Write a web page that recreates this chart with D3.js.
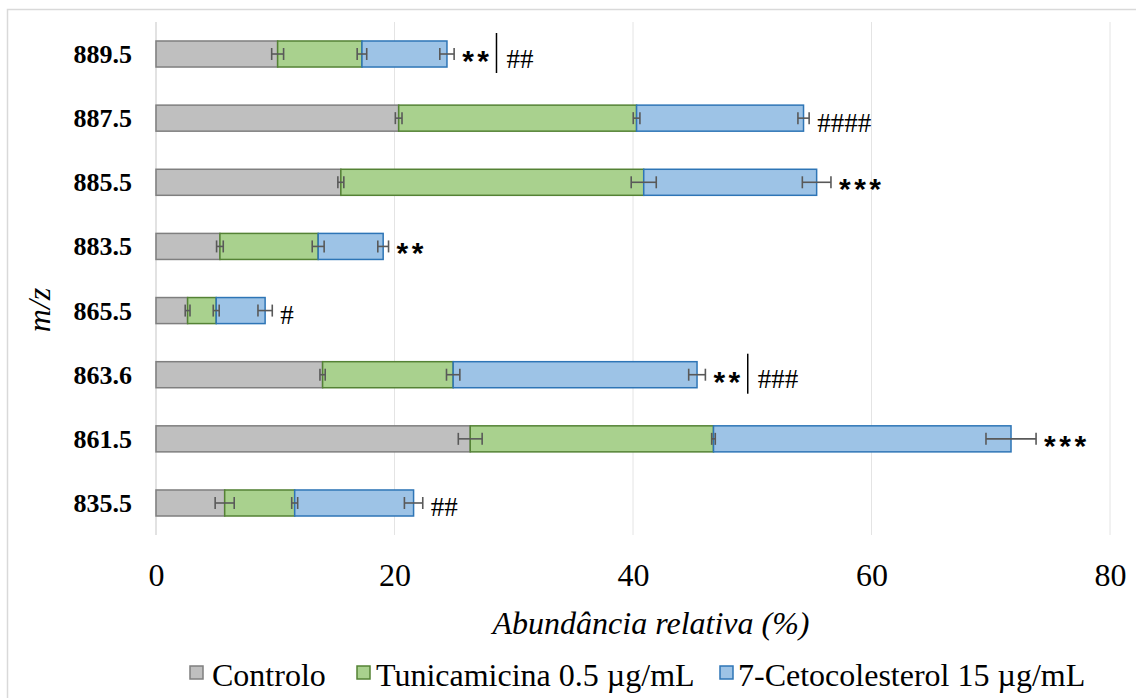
<!DOCTYPE html>
<html>
<head>
<meta charset="utf-8">
<script src="https://cdn.jsdelivr.net/npm/d3@7"></script>
<style>
  html, body { margin: 0; padding: 0; background: #fff; }
  svg { display: block; }
</style>
</head>
<body>
<svg id="chart" width="1136" height="698"></svg>
<script>
// m/z species, top to bottom
const categories = ["889.5", "887.5", "885.5", "883.5", "865.5", "863.6", "861.5", "835.5"];

// Relative abundance (%) per condition, with error (±)
const controlo          = [10.2, 20.35, 15.5, 5.36, 2.65, 13.97, 26.35, 5.76];
const controloErr       = [0.5, 0.28, 0.25, 0.28, 0.2, 0.22, 1.0, 0.8];
const tunicamicina      = [7.07, 19.95, 25.4, 8.24, 2.4, 10.95, 20.4, 5.87];
const tunicamicinaErr   = [0.4, 0.28, 1.05, 0.5, 0.25, 0.56, 0.15, 0.25];
const cetocolesterol    = [7.13, 14.0, 14.5, 5.45, 4.1, 20.45, 24.95, 9.97];
const cetocolesterolErr = [0.6, 0.47, 1.2, 0.45, 0.6, 0.7, 2.1, 0.77];

// Significance marks next to each bar
const stars  = ["**", "", "***", "**", "", "**", "***", ""];
const hashes = ["##", "####", "", "", "#", "###", "", "##"];

const xTicks = [0, 20, 40, 60, 80];
const seriesNames = ["Controlo", "Tunicamicina 0.5 µg/mL", "7-Cetocolesterol 15 µg/mL"];

const series = [
  { name: seriesNames[0], values: controlo, errs: controloErr, fill: "#bfbfbf", stroke: "#7f7f7f" },
  { name: seriesNames[1], values: tunicamicina, errs: tunicamicinaErr, fill: "#a9d18e", stroke: "#548235" },
  { name: seriesNames[2], values: cetocolesterol, errs: cetocolesterolErr, fill: "#9dc3e6", stroke: "#2e75b6" }
];

const svg = d3.select("#chart");
const serif = "'Liberation Serif', 'Times New Roman', serif";

// outer chart frame
svg.append("rect")
  .attr("x", 7.5).attr("y", 9.5).attr("width", 1160).attr("height", 720)
  .attr("fill", "none").attr("stroke", "#d9d9d9").attr("stroke-width", 1.5);

const plot = { left: 156, right: 1110, top: 22, bottom: 535 };

const x = d3.scaleLinear().domain([0, 80]).range([plot.left, plot.right]);
const y = d3.scaleBand().domain(categories).range([plot.top, plot.bottom])
  .paddingInner(0.594).paddingOuter(0.296);

// vertical gridlines
svg.append("g").selectAll("line").data(xTicks.slice(1)).join("line")
  .attr("x1", d => x(d)).attr("x2", d => x(d))
  .attr("y1", plot.top).attr("y2", plot.bottom)
  .attr("stroke", "#e4e4e4").attr("stroke-width", 1);

// category axis line
svg.append("line")
  .attr("x1", plot.left).attr("x2", plot.left)
  .attr("y1", plot.top).attr("y2", plot.bottom)
  .attr("stroke", "#d9d9d9").attr("stroke-width", 1.5);

// x axis labels
const xAxis = d3.axisBottom(x).tickValues(xTicks).tickSize(0).tickPadding(0);
const gx = svg.append("g").attr("transform", `translate(0,${plot.bottom})`).call(xAxis);
gx.select(".domain").remove();
gx.selectAll("text")
  .attr("y", 51).attr("dy", null)
  .style("font-family", serif).style("font-size", "32px").attr("fill", "#000");

// y axis labels
const yAxis = d3.axisLeft(y).tickSize(0).tickPadding(0);
const gy = svg.append("g").attr("transform", `translate(${plot.left},0)`).call(yAxis);
gy.select(".domain").remove();
gy.selectAll("text")
  .attr("x", -24).attr("dy", 9)
  .style("font-family", serif).style("font-size", "26px").style("font-weight", "bold")
  .attr("fill", "#000");

// stacked segments
const stackRows = categories.map((c, i) => {
  let acc = 0;
  return series.map(s => {
    const seg = { cat: c, x0: acc, x1: acc + s.values[i], err: s.errs[i], s };
    acc += s.values[i];
    return seg;
  });
});
const segs = stackRows.flat();

svg.append("g").selectAll("rect").data(segs).join("rect")
  .attr("x", d => x(d.x0))
  .attr("y", d => y(d.cat))
  .attr("width", d => x(d.x1) - x(d.x0))
  .attr("height", y.bandwidth())
  .attr("fill", d => d.s.fill)
  .attr("stroke", d => d.s.stroke)
  .attr("stroke-width", 1.5);

// error bars at each segment end
const eb = svg.append("g").attr("stroke", "#595959").attr("stroke-width", 1.6);
segs.forEach(d => {
  const cy = y(d.cat) + y.bandwidth() / 2;
  const a = x(d.x1 - d.err), b = x(d.x1 + d.err);
  eb.append("line").attr("x1", a).attr("x2", b).attr("y1", cy).attr("y2", cy);
  eb.append("line").attr("x1", a).attr("x2", a).attr("y1", cy - 6).attr("y2", cy + 6);
  eb.append("line").attr("x1", b).attr("x2", b).attr("y1", cy - 6).attr("y2", cy + 6);
});

// significance annotations
const ann = svg.append("g");
stackRows.forEach((row, i) => {
  const last = row[row.length - 1];
  const cy = y(categories[i]) + y.bandwidth() / 2;
  let px = x(last.x1 + last.err) + 8;
  if (stars[i]) {
    const t = ann.append("text")
      .attr("x", px).attr("y", cy + 17)
      .style("font-family", "'Liberation Sans', Arial, sans-serif")
      .style("font-size", "30px").style("font-weight", "bold")
      .style("letter-spacing", "3.5px")
      .text(stars[i]);
    px += t.node().getComputedTextLength() + 4;
    if (hashes[i]) {
      ann.append("line")
        .attr("x1", px).attr("x2", px).attr("y1", cy - 21).attr("y2", cy + 19)
        .attr("stroke", "#000").attr("stroke-width", 1.5);
      px += 10;
    }
  }
  if (hashes[i]) {
    ann.append("text")
      .attr("x", px).attr("y", cy + 13.5)
      .style("font-family", serif).style("font-size", "27px")
      .text(hashes[i]);
  }
});

// axis titles
svg.append("text")
  .attr("x", 651).attr("y", 634).attr("text-anchor", "middle")
  .style("font-family", serif).style("font-size", "32px").style("font-style", "italic")
  .text("Abundância relativa (%)");

svg.append("text")
  .attr("transform", "translate(50,310) rotate(-90)")
  .attr("text-anchor", "middle")
  .style("font-family", serif).style("font-size", "32px").style("font-style", "italic")
  .text("m/z");

// legend
const legendItems = [
  { sq: 190, tx: 212 },
  { sq: 357, tx: 376 },
  { sq: 720, tx: 738 }
];
const lg = svg.append("g");
series.forEach((s, i) => {
  lg.append("rect")
    .attr("x", legendItems[i].sq).attr("y", 666).attr("width", 13).attr("height", 13)
    .attr("fill", s.fill).attr("stroke", s.stroke).attr("stroke-width", 1.5);
  lg.append("text")
    .attr("x", legendItems[i].tx).attr("y", 686)
    .style("font-family", serif).style("font-size", "32px")
    .text(s.name);
});
</script>
</body>
</html>
